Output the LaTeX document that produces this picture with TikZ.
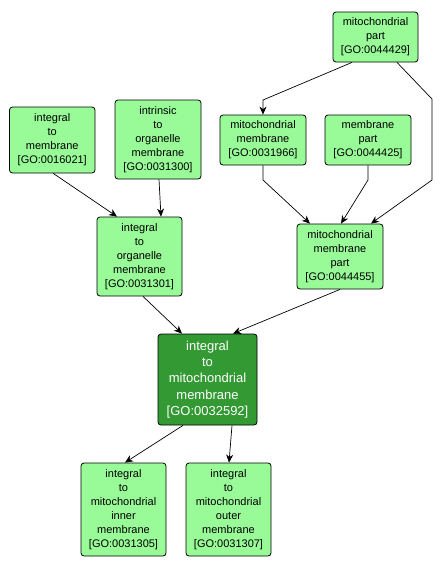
\documentclass[tikz,border=0pt]{standalone}
\usepackage{fontspec}
\setmainfont{Liberation Sans}
\usetikzlibrary{arrows.meta,calc}
\definecolor{lgreen}{RGB}{152,251,152}
\definecolor{dgreen}{RGB}{51,153,51}
\tikzset{
  goterm/.style={draw=black, line width=0.8pt, fill=lgreen, rounded corners=3pt,
    inner sep=0pt, align=center, font=\fontsize{11}{14}\selectfont, text=black},
  goroot/.style={goterm, fill=dgreen, text=white, font=\fontsize{13}{16.3}\selectfont},
  edge/.style={draw=black, line width=0.7pt, -{Stealth[length=8pt,width=7pt,inset=2.5pt]}}
}
\begin{document}
\begin{tikzpicture}[x=1pt,y=-1pt]
\useasboundingbox (0,0) rectangle (441,571);
\node[goterm, minimum width=85pt, minimum height=50pt] (mp) at (375.5,37) {mitochondrial\\part\\{[GO:0044429]}};
\node[goterm, minimum width=85.5pt, minimum height=66pt] (itm) at (52.25,140) {integral\\to\\membrane\\{[GO:0016021]}};
\node[goterm, minimum width=86pt, minimum height=79pt] (intr) at (158,139.5) {intrinsic\\to\\organelle\\membrane\\{[GO:0031300]}};
\node[goterm, minimum width=86pt, minimum height=50pt] (mm) at (263,140) {mitochondrial\\membrane\\{[GO:0031966]}};
\node[goterm, minimum width=86pt, minimum height=50pt] (mpart) at (368,140) {membrane\\part\\{[GO:0044425]}};
\node[goterm, minimum width=85pt, minimum height=79pt] (ito) at (139.5,256.5) {integral\\to\\organelle\\membrane\\{[GO:0031301]}};
\node[goterm, minimum width=86pt, minimum height=65pt] (mmp) at (340,256.5) {mitochondrial\\membrane\\part\\{[GO:0044455]}};
\node[goroot, minimum width=99pt, minimum height=91pt] (itmm) at (207.5,379.5) {integral\\to\\mitochondrial\\membrane\\{[GO:0032592]}};
\node[goterm, minimum width=85pt, minimum height=93pt] (inner) at (123.5,509.5) {integral\\to\\mitochondrial\\inner\\membrane\\{[GO:0031305]}};
\node[goterm, minimum width=85pt, minimum height=93pt] (outer) at (228.5,509.5) {integral\\to\\mitochondrial\\outer\\membrane\\{[GO:0031307]}};
% bend points
\coordinate (b1) at (263,100);
\coordinate (b2) at (432,99);
\coordinate (b3) at (432,180);
\coordinate (b4) at (263,180);
\coordinate (b5) at (368,180);
% edges
\draw[edge] ([xshift=-23.5pt]mp.south) -- (b1) -- (mm.north);
\draw[edge] ([xshift=21.5pt]mp.south) -- (b2) -- (b3) -- ([xshift=31pt]mmp.north);
\draw[edge] (mm.south) -- (b4) -- ([xshift=-30pt]mmp.north);
\draw[edge] (mpart.south) -- (b5) -- ([xshift=1pt]mmp.north);
\draw[edge] ([xshift=1pt]itm.south) -- ([xshift=-22.5pt]ito.north);
\draw[edge] ([xshift=1pt]intr.south) -- ([xshift=21.5pt]ito.north);
\draw[edge] ([xshift=3.5pt]ito.south) -- ([xshift=-25.5pt]itmm.north);
\draw[edge] ([xshift=0pt]mmp.south) -- ([xshift=25.5pt]itmm.north);
\draw[edge] ([xshift=-24.5pt]itmm.south) -- ([xshift=1.5pt]inner.north);
\draw[edge] ([xshift=24.5pt]itmm.south) -- ([xshift=0.5pt]outer.north);
\end{tikzpicture}
\end{document}
